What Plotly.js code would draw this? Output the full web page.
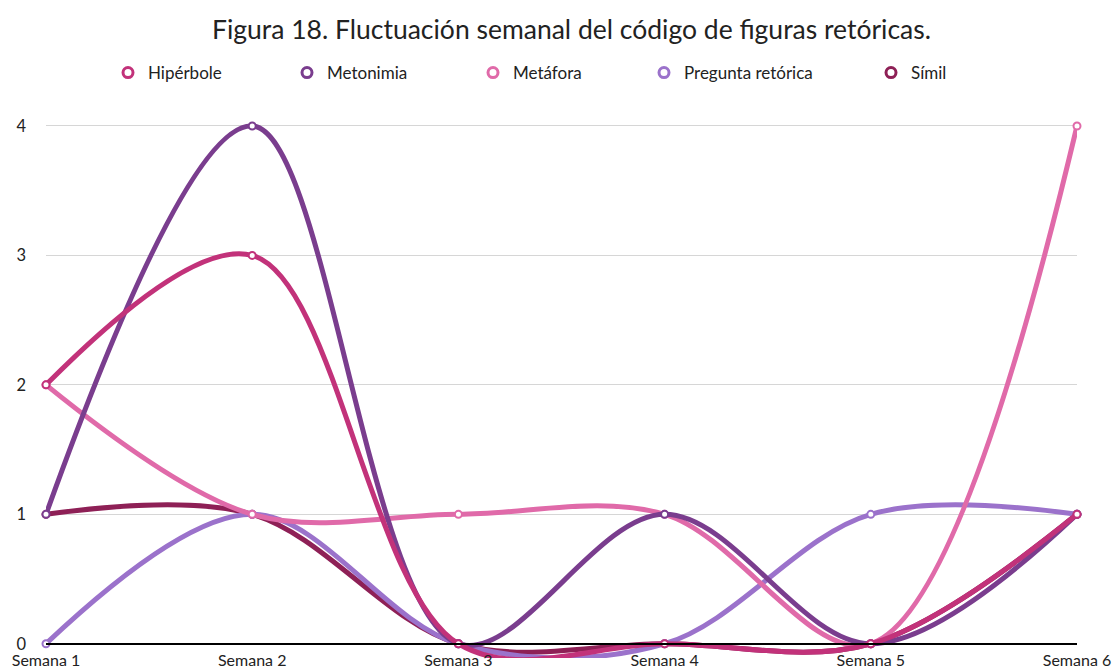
<!DOCTYPE html>
<html>
<head>
<meta charset="utf-8">
<script src="https://cdn.plot.ly/plotly-3.0.1.min.js"></script>
<style>html,body{margin:0;padding:0;background:#fff;}#chart{width:1115px;height:670px;}</style>
</head>
<body>
<div id="chart"></div>
<script>
const weeks = ["Semana 1", "Semana 2", "Semana 3", "Semana 4", "Semana 5", "Semana 6"];
const seriesNames = ["Hipérbole", "Metonimia", "Metáfora", "Pregunta retórica", "Símil"];
const hiperbole = [2, 3, 0, 0, 0, 1];
const metonimia = [1, 4, 0, 1, 0, 1];
const metafora = [2, 1, 1, 1, 0, 4];
const pregunta = [0, 1, 0, 0, 1, 1];
const simil = [1, 1, 0, 0, 0, 1];
const colors = ["#c2327a", "#7a3d8e", "#e06aa9", "#9b72cb", "#8e2056"];
const values = [hiperbole, metonimia, metafora, pregunta, simil];
const legendMarkerX = [129, 308, 494, 665, 892];

const L = 46, R = 38, T = 113, B = 12;
const plotW = 1115 - L - R, plotH = 670 - T - B;
const yMin = -0.11, yMax = 4.1;

const traces = [];
const legendKeys = ["legend", "legend2", "legend3", "legend4", "legend5"];
// draw in reverse so Hipérbole ends on top
for (let i = values.length - 1; i >= 0; i--) {
  traces.push({
    x: weeks, y: values[i], type: "scatter", mode: "lines+markers",
    name: seriesNames[i], showlegend: false, cliponaxis: false,
    line: {color: colors[i], width: 5, shape: "spline", smoothing: 1},
    marker: {symbol: "circle", size: 7, color: "#ffffff", line: {color: colors[i], width: 2}},
    hoverinfo: "x+y+name"
  });
}
for (let i = 0; i < values.length; i++) {
  traces.push({
    x: [null], y: [null], type: "scatter", mode: "markers",
    name: seriesNames[i], showlegend: true, legend: legendKeys[i],
    marker: {symbol: "circle", size: 10, color: "#ffffff", line: {color: colors[i], width: 3}}
  });
}

const layout = {
  width: 1115, height: 670,
  margin: {l: L, r: R, t: T, b: B},
  paper_bgcolor: "#ffffff", plot_bgcolor: "#ffffff",
  font: {family: "Lato, 'Open Sans', sans-serif", color: "#222222", size: 16},
  title: {
    text: "Figura 18. Fluctuación semanal del código de figuras retóricas.",
    font: {family: "Lato, sans-serif", size: 26.5, color: "#222222"},
    x: 571.5 / 1115, xref: "container", xanchor: "center",
    y: 1 - 30 / 670, yref: "container", yanchor: "middle"
  },
  xaxis: {
    type: "category", range: [0, 5], anchor: "free",
    position: (0 - yMin) / (yMax - yMin),
    showgrid: false, zeroline: false,
    showline: true, linecolor: "#000000", linewidth: 1.5,
    ticks: "", ticklabelstandoff: 2,
    tickfont: {family: "Lato, sans-serif", size: 16, color: "#222222"},
    fixedrange: true
  },
  yaxis: {
    range: [yMin, yMax], tickvals: [0, 1, 2, 3, 4], ticktext: ["0", "1", "2", "3", "4"],
    showgrid: true, gridcolor: "#d6d6d6", gridwidth: 1,
    zeroline: false, showline: false, ticks: "",
    ticklabelstandoff: 19,
    tickfont: {family: "Lato, sans-serif", size: 16.5, color: "#222222"},
    fixedrange: true
  },
  hovermode: "closest"
};
legendKeys.forEach((k, i) => {
  layout[k] = {
    orientation: "h", x: (legendMarkerX[i] - 21 - L) / plotW, xanchor: "left",
    y: (670 - B - 73) / plotH, yanchor: "middle",
    bgcolor: "rgba(0,0,0,0)", borderwidth: 0,
    font: {family: "Lato, sans-serif", size: 17, color: "#222222"}
  };
});

Plotly.newPlot("chart", traces, layout, {displayModeBar: false, responsive: false});
</script>
</body>
</html>
